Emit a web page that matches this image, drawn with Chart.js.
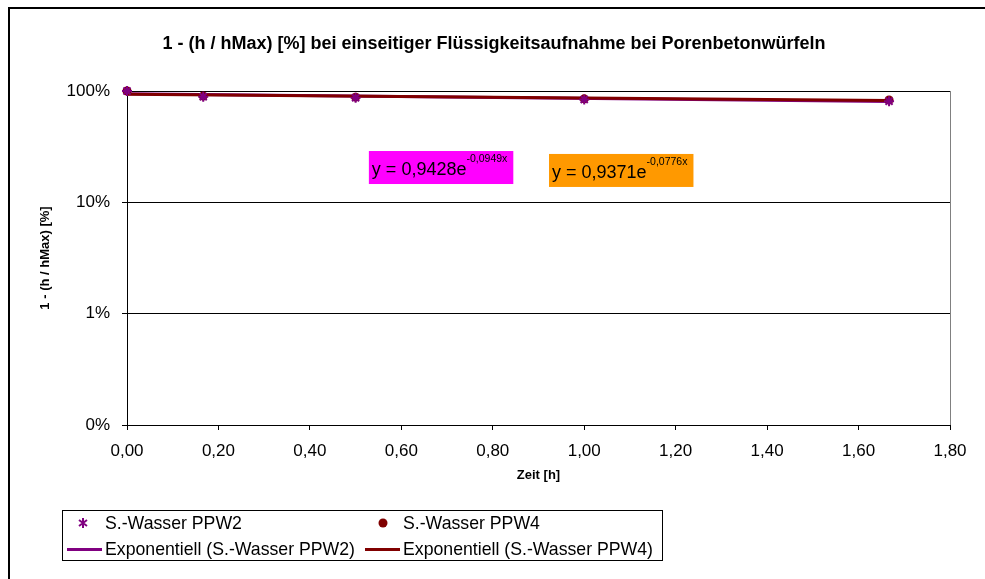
<!DOCTYPE html>
<html>
<head>
<meta charset="utf-8">
<script src="https://cdn.jsdelivr.net/npm/chart.js@4"></script>
<style>
  body { margin: 0; background: #fff; font-family: 'Liberation Sans', Arial, sans-serif; }
  #wrap { position: relative; width: 985px; height: 579px; overflow: hidden; }
  #legend {
    position: absolute; left: 62px; top: 510px; width: 599px; height: 49px;
    border: 1px solid #000; font-size: 17.7px; color: #000;
  }
  .txt { position: absolute; white-space: nowrap; line-height: 20px; }
  .line { position: absolute; width: 35px; height: 3px; }
</style>
</head>
<body>
<div id="wrap">
  <canvas id="myChart" width="985" height="579"></canvas>
  <div id="legend">
    <svg style="position:absolute;left:14px;top:6px" width="12" height="12" viewBox="0 0 12 12">
      <path d="M6 1 V11 M2 3 L10 9 M10 3 L2 9" stroke="#800080" stroke-width="2" fill="none"/>
    </svg>
    <div class="txt" style="left:42px;top:2px">S.-Wasser PPW2</div>
    <svg style="position:absolute;left:314px;top:6px" width="12" height="12" viewBox="0 0 12 12">
      <circle cx="6" cy="6" r="4.5" fill="#800000"/>
    </svg>
    <div class="txt" style="left:340px;top:2px">S.-Wasser PPW4</div>
    <div class="line" style="left:4px;top:37px;background:#800080"></div>
    <div class="txt" style="left:42px;top:28px">Exponentiell (S.-Wasser PPW2)</div>
    <div class="line" style="left:302px;top:37px;background:#800000"></div>
    <div class="txt" style="left:340px;top:28px">Exponentiell (S.-Wasser PPW4)</div>
  </div>
</div>
<script>
// Messwerte
const zeit = [0, 0.1667, 0.5, 1.0, 1.6667]
const ppw2 = [1.0, 0.89, 0.87, 0.84, 0.81]
const ppw4 = [1.0, 0.90, 0.88, 0.85, 0.83]

// Trendlinien (Anfang / Ende)
const trendZeit = [0, 1.6667]
const trendPPW2 = [0.943, 0.805]
const trendPPW4 = [0.937, 0.823]

const yTicks = [0.001, 0.01, 0.1, 1]
const xTicks = [0, 0.2, 0.4, 0.6, 0.8, 1.0, 1.2, 1.4, 1.6, 1.8]

const gleichungen = [
  { base: 'y = 0,9428e', exp: '-0,0949x', bg: '#FF00FF', x: 0.529, y: 0.289 },
  { base: 'y = 0,9371e', exp: '-0,0776x', bg: '#FF9900', x: 0.923, y: 0.272 }
]

function toPoints (xs, ys) {
  return xs.map((x, i) => ({ x, y: ys[i] }))
}

const FONT = "'Liberation Sans', Arial, sans-serif"

const rahmenPlugin = {
  id: 'rahmen',
  beforeDraw (chart) {
    const ctx = chart.ctx
    ctx.save()
    ctx.fillStyle = '#fff'
    ctx.fillRect(0, 0, chart.width, chart.height)
    ctx.strokeStyle = '#000'
    ctx.lineWidth = 2
    ctx.strokeRect(9, 8, 2000, 1000)
    ctx.restore()
  },
  afterDraw (chart) {
    const ctx = chart.ctx
    const a = chart.chartArea
    ctx.save()
    ctx.strokeStyle = '#808080'
    ctx.lineWidth = 1
    ctx.beginPath()
    ctx.moveTo(a.right + 0.5, a.top)
    ctx.lineTo(a.right + 0.5, a.bottom)
    ctx.stroke()
    // Gleichungen
    const xs = chart.scales.x
    const ys = chart.scales.y
    gleichungen.forEach((g) => {
      const left = xs.getPixelForValue(g.x)
      const top = ys.getPixelForValue(g.y)
      ctx.font = '18px ' + FONT
      const w1 = ctx.measureText(g.base).width
      ctx.font = '10.5px ' + FONT
      const w2 = ctx.measureText(g.exp).width
      ctx.fillStyle = g.bg
      ctx.fillRect(left, top, w1 + w2 + 9, 33)
      ctx.fillStyle = '#000'
      ctx.textBaseline = 'alphabetic'
      ctx.font = '18px ' + FONT
      ctx.fillText(g.base, left + 3, top + 24)
      ctx.font = '10.5px ' + FONT
      ctx.fillText(g.exp, left + 3 + w1, top + 11)
    })
    ctx.restore()
  }
}

const ctx = document.getElementById('myChart').getContext('2d')
const myChart = new Chart(ctx, {
  type: 'scatter',
  data: {
    datasets: [
      {
        label: 'S.-Wasser PPW2',
        data: toPoints(zeit, ppw2),
        pointStyle: 'star',
        pointRadius: 5,
        borderColor: '#800080',
        backgroundColor: '#800080',
        borderWidth: 2,
        clip: false,
        order: 0
      },
      {
        label: 'S.-Wasser PPW4',
        data: toPoints(zeit, ppw4),
        pointStyle: 'circle',
        pointRadius: 4.5,
        borderColor: '#800000',
        backgroundColor: '#800000',
        borderWidth: 0,
        clip: false,
        order: 0
      },
      {
        label: 'Exponentiell (S.-Wasser PPW2)',
        data: toPoints(trendZeit, trendPPW2),
        showLine: true,
        pointRadius: 0,
        borderColor: '#800080',
        borderWidth: 3,
        order: 2
      },
      {
        label: 'Exponentiell (S.-Wasser PPW4)',
        data: toPoints(trendZeit, trendPPW4),
        showLine: true,
        pointRadius: 0,
        borderColor: '#800000',
        borderWidth: 3,
        order: 1
      }
    ]
  },
  options: {
    responsive: false,
    animation: false,
    layout: { padding: { left: 38, right: 35, top: 0, bottom: 94 } },
    plugins: {
      legend: { display: false },
      tooltip: { enabled: false },
      title: {
        display: true,
        text: '1 - (h / hMax) [%] bei einseitiger Flüssigkeitsaufnahme bei Porenbetonwürfeln',
        color: '#000',
        font: { family: FONT, size: 18, weight: 'bold' },
        padding: { top: 33, bottom: 36.4 }
      }
    },
    scales: {
      x: {
        type: 'linear',
        min: 0,
        max: 1.8,
        afterBuildTicks (scale) {
          scale.ticks = xTicks.map((v) => ({ value: v }))
        },
        afterFit (scale) { scale.height = 60 },
        ticks: {
          color: '#000',
          font: { family: FONT, size: 17 },
          padding: 11,
          maxRotation: 0,
          callback: (v) => v.toFixed(2).replace('.', ',')
        },
        grid: { drawOnChartArea: false, drawTicks: true, tickLength: 5, color: '#000' },
        border: { color: '#000', width: 1 },
        title: {
          display: true,
          text: 'Zeit [h]',
          color: '#000',
          font: { family: FONT, size: 13, weight: 'bold' },
          padding: { top: 0, bottom: 2 }
        }
      },
      y: {
        type: 'logarithmic',
        min: 0.001,
        max: 1,
        afterBuildTicks (scale) {
          scale.ticks = yTicks.map((v) => ({ value: v }))
        },
        afterFit (scale) { scale.width = 89 },
        ticks: {
          color: '#000',
          font: { family: FONT, size: 17 },
          padding: 12,
          callback: (v) => Math.round(v * 100) + '%'
        },
        grid: { color: '#000', tickLength: 5 },
        border: { color: '#000', width: 1 },
        title: {
          display: true,
          text: '1 - (h / hMax) [%]',
          color: '#000',
          font: { family: FONT, size: 13, weight: 'bold' },
          padding: { top: 0, bottom: 0 }
        }
      }
    }
  },
  plugins: [rahmenPlugin]
})
</script>
</body>
</html>
